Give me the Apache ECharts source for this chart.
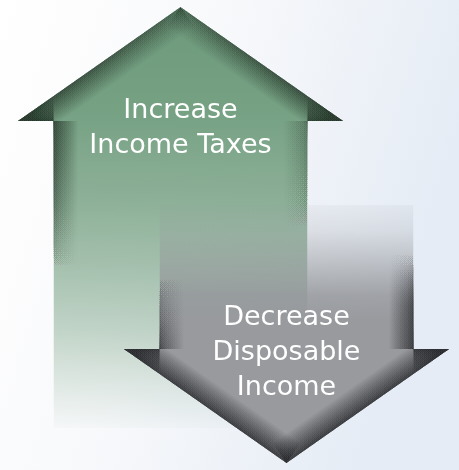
<!DOCTYPE html>
<html>
<head>
<meta charset="utf-8">
<script src="https://cdn.jsdelivr.net/npm/echarts@6/dist/echarts.min.js"></script>
<style>
  html, body { margin: 0; padding: 0; background: #ffffff; }
  #chart { width: 459px; height: 470px; }
</style>
</head>
<body>
<div id="chart"></div>
<script>
// ---- data (infographic: two arrows, in a 459 x 470 value space) ----
const arrowLabels = [['Increase', 'Income Taxes'], ['Decrease', 'Disposable', 'Income']];
const arrowCenterX = [180.5, 286.5];
const arrowTipY = [7, 463];
const arrowHeadBaseY = [121, 349];
const arrowTailY = [428, 205];
const arrowHeadHalfWidth = [162.5, 162.5];
const arrowShaftHalfWidth = [127, 127];

const seriesData = arrowCenterX.map((cx, i) => [
  cx, arrowTipY[i], arrowHeadBaseY[i], arrowTailY[i], arrowHeadHalfWidth[i], arrowShaftHalfWidth[i]
]);

// ---- styles ----
const FONT = '27px "DejaVu Sans"';
const LINE_H = 35;
const fillStops = [
  [ // green, top -> bottom
    [0, 'rgba(110,154,124,1)'],
    [0.25, 'rgba(118,161,131,1)'],
    [0.46, 'rgba(122,163,134,0.85)'],
    [0.62, 'rgba(122,163,134,0.66)'],
    [0.77, 'rgba(122,163,134,0.44)'],
    [0.9, 'rgba(122,163,134,0.2)'],
    [1, 'rgba(122,163,134,0.03)']
  ],
  [ // gray, top -> bottom
    [0, 'rgba(147,149,153,0.08)'],
    [0.1, 'rgba(147,149,153,0.2)'],
    [0.22, 'rgba(147,149,153,0.5)'],
    [0.35, 'rgba(147,149,153,0.85)'],
    [0.45, 'rgba(152,154,158,1)'],
    [1, 'rgba(152,154,158,1)']
  ]
];
const edgeRGB = ['34,50,38', '36,37,40'];
// per edge (point i -> point i+1): alpha stops along the edge
// points: 0 tip, 1 right outer, 2 right inner, 3 right tail, 4 left tail, 5 left inner, 6 left outer
const edgeAlpha = [
  [ // green
    [[0, 0.45], [1, 1]],
    [[0, 1], [1, 1]],
    [[0, 0.35], [0.3, 0.08], [0.45, 0], [1, 0]],
    [[0, 0], [1, 0]],
    [[0, 0], [0.5, 0], [0.72, 0.45], [1, 1]],
    [[0, 1], [1, 1]],
    [[0, 1], [1, 0.45]]
  ],
  [ // gray
    [[0, 1], [1, 1]],
    [[0, 1], [1, 1]],
    [[0, 1], [0.3, 0.8], [0.6, 0.1], [0.75, 0], [1, 0]],
    [[0, 0], [1, 0]],
    [[0, 0], [0.45, 0], [0.8, 0.4], [1, 0.7]],
    [[0, 1], [1, 1]],
    [[0, 1], [1, 1]]
  ]
];
const LAYERS = 40;
const LAYER_ALPHA = 0.044;
const MAX_HALF = 24;

function grad(stops) {
  return { type: 'linear', x: 0, y: 0, x2: 0, y2: 1,
    colorStops: stops.map(s => ({ offset: s[0], color: s[1] })) };
}

function renderItem(params, api) {
  const i = params.dataIndex;
  const cx = api.value(0), tip = api.value(1), base = api.value(2), tail = api.value(3);
  const hh = api.value(4), sh = api.value(5);
  const P = (x, y) => api.coord([x, y]);
  const pts = [
    P(cx, tip),
    P(cx + hh, base),
    P(cx + sh, base),
    P(cx + sh, tail),
    P(cx - sh, tail),
    P(cx - sh, base),
    P(cx - hh, base)
  ];
  const children = [];
  children.push({ type: 'polygon', shape: { points: pts }, style: { fill: grad(fillStops[i]) } });
  for (let e = 0; e < pts.length; e++) {
    const a = pts[e], b = pts[(e + 1) % pts.length];
    const stops = edgeAlpha[i][e];
    if (stops.every(s => s[1] === 0)) continue;
    for (let k = 1; k <= LAYERS; k++) {
      const half = MAX_HALF * Math.pow(k / LAYERS, 2);
      children.push({
        type: 'line',
        shape: { x1: a[0], y1: a[1], x2: b[0], y2: b[1] },
        style: {
          lineWidth: half * 2, lineCap: 'butt',
          stroke: { type: 'linear', global: true, x: a[0], y: a[1], x2: b[0], y2: b[1],
            colorStops: stops.map(s => ({ offset: s[0], color: 'rgba(' + edgeRGB[i] + ',' + (s[1] * LAYER_ALPHA).toFixed(4) + ')' })) }
        }
      });
    }
  }
  const group = {
    type: 'group',
    clipPath: { type: 'polygon', shape: { points: pts } },
    children: children
  };
  const lines = arrowLabels[i];
  const firstBaseline = i === 0 ? base - 1 : base - 22;
  const texts = lines.map((t, j) => {
    const p = P(cx, firstBaseline + j * LINE_H);
    return {
      type: 'text',
      style: { text: t, x: p[0], y: p[1] - 9, fill: '#ffffff', font: FONT, align: 'center', verticalAlign: 'middle' }
    };
  });
  return { type: 'group', children: [group].concat(texts) };
}

const chart = echarts.init(document.getElementById('chart'), null, { renderer: 'canvas' });
chart.setOption({
  animation: false,
  graphic: [{
    type: 'rect', z: -10, silent: true,
    shape: { x: 0, y: 0, width: 459, height: 470 },
    style: { fill: { type: 'linear', x: 0, y: 0, x2: 1, y2: 0.3,
      colorStops: [ { offset: 0, color: '#ffffff' }, { offset: 0.45, color: '#f8f9fb' }, { offset: 1, color: '#e5ecf5' } ] } }
  }],
  grid: { left: 0, right: 0, top: 0, bottom: 0 },
  xAxis: { type: 'value', min: 0, max: 459, show: false },
  yAxis: { type: 'value', min: 0, max: 470, inverse: true, show: false },
  series: [{
    type: 'custom',
    renderItem: renderItem,
    data: seriesData,
    clip: false
  }]
});
</script>
</body>
</html>
